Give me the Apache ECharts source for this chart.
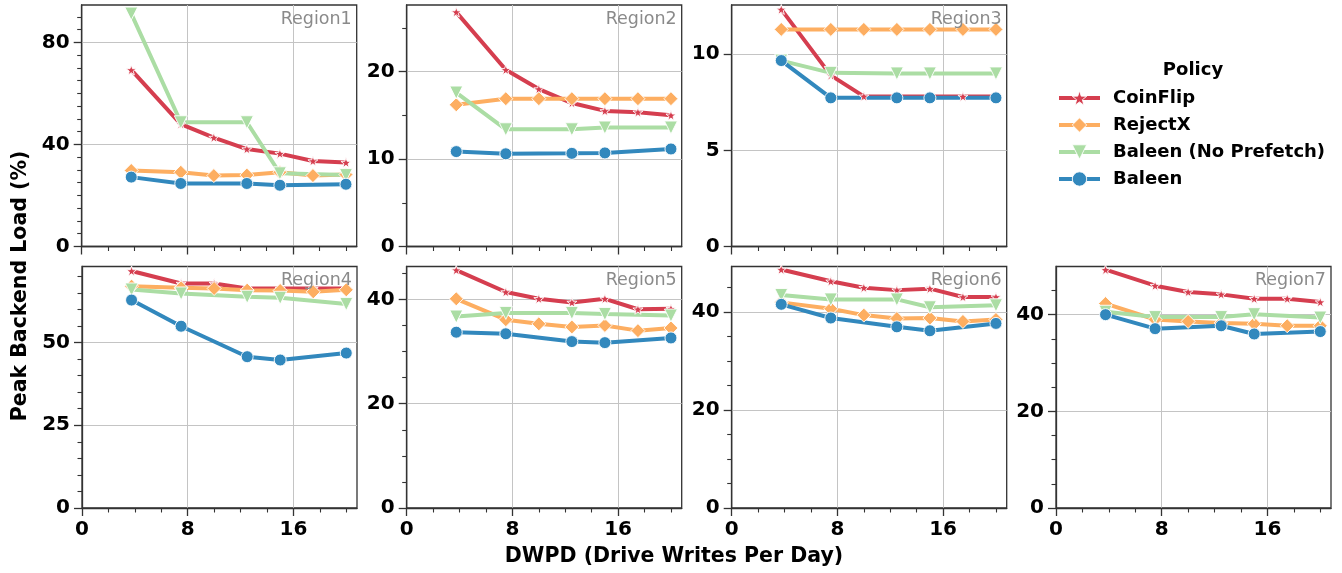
<!DOCTYPE html>
<html><head><meta charset="utf-8">
<script src="https://cdn.jsdelivr.net/npm/echarts@6/dist/echarts.min.js"></script>
<style>html,body{margin:0;padding:0;background:#fff}#c{width:1342px;height:573px}</style>
</head><body><div id="c"></div>
<script>
// ---- data ----
const policies = ['CoinFlip', 'RejectX', 'Baleen (No Prefetch)', 'Baleen'];
const regions = ['Region1', 'Region2', 'Region3', 'Region4', 'Region5', 'Region6', 'Region7'];
const xAll = [3.75, 7.5, 10, 12.5, 15, 17.5, 20];
const xBaleen = [3.75, 7.5, 12.5, 15, 20];

const coinFlip = [
  [69.2, 48.0, 42.7, 38.2, 36.4, 33.5, 32.9],
  [26.8, 20.2, 18.0, 16.4, 15.5, 15.35, 15.0],
  [12.33, 8.9, 7.81, 7.8, 7.8, 7.8, 7.8],
  [71.6, 67.8, 67.8, 66.3, 66.3, 66.3, 66.3],
  [45.6, 41.4, 40.1, 39.4, 40.1, 38.1, 38.2],
  [48.7, 46.3, 45.0, 44.5, 44.8, 43.1, 43.1],
  [49.3, 46.0, 44.7, 44.2, 43.3, 43.3, 42.6]
];
const rejectX = [
  [29.8, 29.1, 27.8, 28.0, 29.1, 27.8, 28.2],
  [16.2, 16.9, 16.9, 16.9, 16.9, 16.9, 16.9],
  [11.29, 11.29, 11.29, 11.29, 11.29, 11.29, 11.29],
  [67.0, 66.5, 66.3, 65.8, 65.7, 65.3, 65.9],
  [40.1, 36.1, 35.3, 34.7, 35.0, 34.0, 34.5],
  [42.0, 40.7, 39.4, 38.7, 38.8, 38.1, 38.5],
  [42.3, 39.0, 38.6, 38.3, 38.1, 37.7, 37.7]
];
const baleenNoPrefetch = [
  [91.3, 48.7, 48.7, 28.7, 28.0],
  [17.6, 13.4, 13.4, 13.6, 13.6],
  [9.67, 9.03, 9.0, 9.0, 9.0],
  [66.0, 64.8, 63.8, 63.5, 61.6],
  [36.7, 37.4, 37.4, 37.2, 36.9],
  [43.5, 42.6, 42.6, 41.0, 41.4],
  [40.6, 39.5, 39.5, 40.1, 39.4]
];
const baleen = [
  [27.2, 24.7, 24.7, 24.0, 24.4],
  [10.85, 10.6, 10.65, 10.7, 11.15],
  [9.67, 7.73, 7.73, 7.73, 7.73],
  [62.8, 54.9, 45.7, 44.7, 46.8],
  [33.7, 33.4, 31.9, 31.7, 32.6],
  [41.6, 38.8, 37.0, 36.2, 37.7],
  [40.0, 37.1, 37.7, 36.0, 36.5]
];

// tick labels
const yMajorTicks = [[0, 40, 80], [0, 10, 20], [0, 5, 10], [0, 25, 50], [0, 20, 40], [0, 20, 40], [0, 20, 40]];
const yMinorStep = [5, 5, 0, 5, 5, 5, 5];
const xMajorTicks = [0, 8, 16];
const xMinorTicks = [2, 4, 6, 10, 12, 14, 18, 20];

// ---- layout / style ----
const colors = ['#d53e4f', '#fdae61', '#abdda4', '#3288bd'];
const FONT = 'DejaVu Sans';
const starPath = 'path://M0,-10L2.35,-3.24L9.51,-3.09L3.8,1.24L5.88,8.09L0,4L-5.88,8.09L-3.8,1.24L-9.51,-3.09L-2.35,-3.24Z';
const symbols = [
  {symbol: starPath, symbolSize: 10, symbolRotate: 0},
  {symbol: 'diamond', symbolSize: 14, symbolRotate: 0},
  {symbol: 'triangle', symbolSize: 13, symbolRotate: 180},
  {symbol: 'circle', symbolSize: 12, symbolRotate: 0}
];
const W = 275, H = 241.5;
const gridPos = [
  [81.7, 5], [406.7, 5], [731.7, 5],
  [82, 266.5], [406.7, 266.5], [731.7, 266.5], [1056, 266.5]
];
const bottomRow = [false, false, false, true, true, true, true];

const xMax = xAll[xAll.length - 1] + 0.05 * (xAll[xAll.length - 1] - xAll[0]);

const grid = [], xAxis = [], yAxis = [], series = [], graphic = [];
const tickColor = '#333';
const gridLineColor = '#c4c4c4';

regions.forEach((reg, i) => {
  const allVals = [].concat(coinFlip[i], rejectX[i], baleenNoPrefetch[i], baleen[i]);
  const dMax = Math.max(...allVals), dMin = Math.min(...allVals);
  const yMax = dMax + 0.05 * (dMax - dMin);
  const major = yMajorTicks[i];
  const minor = [];
  if (yMinorStep[i]) {
    for (let v = 0; v <= yMax + 1e-9; v += yMinorStep[i]) {
      if (major.indexOf(v) < 0) minor.push(v);
    }
  }
  grid.push({left: gridPos[i][0], top: gridPos[i][1], width: W, height: H,
    show: true, borderColor: '#333', borderWidth: 1.3, containLabel: false});

  xAxis.push({type: 'value', gridIndex: i, min: 0, max: xMax, interval: 8, position: 'bottom',
    axisLine: {show: true, onZero: false, lineStyle: {color: tickColor, width: 1.3}},
    axisTick: {show: true, length: 8, lineStyle: {color: tickColor, width: 1.3}, customValues: xMajorTicks},
    axisLabel: {show: bottomRow[i], customValues: xMajorTicks, margin: 12, color: '#000', fontSize: 20, fontWeight: 'bold', fontFamily: FONT},
    splitLine: {show: true, lineStyle: {color: gridLineColor, width: 1}}
  });
  xAxis.push({type: 'value', gridIndex: i, min: 0, max: xMax, position: 'bottom', offset: 0,
    axisLine: {show: false, onZero: false},
    axisTick: {show: true, length: 4.5, lineStyle: {color: tickColor, width: 1.1}, customValues: xMinorTicks},
    axisLabel: {show: false}, splitLine: {show: false}
  });
  yAxis.push({type: 'value', gridIndex: i, min: 0, max: yMax, interval: major[1], position: 'left',
    axisLine: {show: true, onZero: false, lineStyle: {color: tickColor, width: 1.3}},
    axisTick: {show: true, length: 8, lineStyle: {color: tickColor, width: 1.3}, customValues: major},
    axisLabel: {show: true, customValues: major, margin: 12, color: '#000', fontSize: 20, fontWeight: 'bold', fontFamily: FONT},
    splitLine: {show: true, lineStyle: {color: gridLineColor, width: 1}}
  });
  yAxis.push({type: 'value', gridIndex: i, min: 0, max: yMax, position: 'left', offset: 0,
    axisLine: {show: false, onZero: false},
    axisTick: {show: minor.length > 0, length: 4.5, lineStyle: {color: tickColor, width: 1.1}, customValues: minor.length ? minor : [0]},
    axisLabel: {show: false}, splitLine: {show: false}
  });

  const sets = [
    [xAll, coinFlip[i]], [xAll, rejectX[i]], [xBaleen, baleenNoPrefetch[i]], [xBaleen, baleen[i]]
  ];
  sets.forEach((s, k) => {
    series.push({
      type: 'line', name: policies[k], xAxisIndex: 2 * i, yAxisIndex: 2 * i,
      data: s[0].map((x, j) => [x, s[1][j]]),
      symbol: symbols[k].symbol, symbolSize: symbols[k].symbolSize, symbolRotate: symbols[k].symbolRotate,
      showSymbol: true, showAllSymbol: true,
      lineStyle: {color: colors[k], width: 4},
      itemStyle: {color: colors[k], borderColor: '#fff', borderWidth: 0.9},
      emphasis: {disabled: true}, animation: false, z: 3
    });
  });

  graphic.push({type: 'text', right: 1342 - (gridPos[i][0] + W) + 5, top: gridPos[i][1] + 5,
    style: {text: reg, fill: '#8a8a8a', font: '17.5px "DejaVu Sans"'}, z: 10});
});

graphic.push({type: 'text', x: 1193, y: 70, style: {text: 'Policy', fill: '#000', font: 'bold 18px "DejaVu Sans"', textAlign: 'center', textVerticalAlign: 'middle'}});
graphic.push({type: 'text', x: 674, y: 557, style: {text: 'DWPD (Drive Writes Per Day)', fill: '#000', font: 'bold 20.5px "DejaVu Sans"', textAlign: 'center', textVerticalAlign: 'middle'}});
graphic.push({type: 'text', x: 21, y: 286, rotation: Math.PI / 2,
  style: {text: 'Peak Backend Load (%)', fill: '#000', font: 'bold 20.5px "DejaVu Sans"', textAlign: 'center', textVerticalAlign: 'middle'}});

const chart = echarts.init(document.getElementById('c'), null, {renderer: 'canvas'});
chart.setOption({
  animation: false,
  textStyle: {fontFamily: FONT},
  grid, xAxis, yAxis, series, graphic,
  legend: {
    data: policies, orient: 'vertical', left: 1057, top: 89, padding: 0,
    itemWidth: 41, itemHeight: 18, itemGap: 9,
    lineStyle: {width: 4},
    itemStyle: {borderColor: '#fff', borderWidth: 0.9},
    textStyle: {fontSize: 18, fontWeight: 'bold', color: '#000', fontFamily: FONT, padding: [0, 0, 0, 8]},
    selectedMode: false
  }
});
</script></body></html>
